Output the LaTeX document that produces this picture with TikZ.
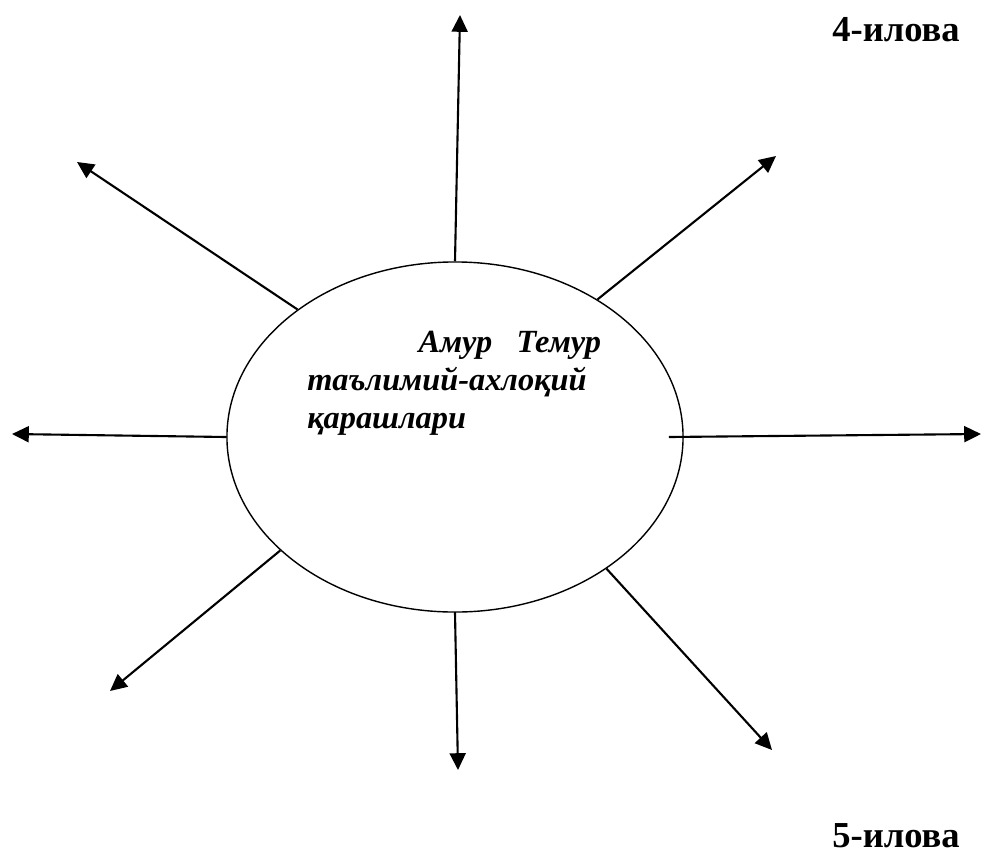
\documentclass[tikz,border=0pt]{standalone}
\usepackage{fontspec}
\setmainfont{Liberation Serif}
\usetikzlibrary{arrows.meta,shapes.geometric}

\begin{document}
\begin{tikzpicture}[
      x=0.025cm, y=-0.025cm,
      >={Triangle[length=0.42cm,width=0.4cm]},
      spoke/.style={->,line width=1.5pt},
      oval/.style={ellipse,draw,line width=1pt,inner sep=0pt,minimum width=11.4cm,minimum height=8.75cm},
      caption/.style={font=\fontsize{26}{26}\selectfont\bfseries},
      title/.style={font=\fontsize{23}{27}\selectfont\bfseries\itshape,align=left,anchor=north west,inner sep=0pt}
    ]
    \useasboundingbox (0,0) rectangle (981,857);

    \node[oval] (ideas) at (455,437) {};
    \node[title] (name) at (307,331) {\hspace*{2.78cm}Амур\hspace{0.75em}Темур\\таълимий-ахлоқий\\қарашлари};

    \node[caption] (fig4) at (896,30) {4-илова};
    \node[caption] (fig5) at (896,836) {5-илова};

    % free ends of the spokes
    \coordinate (tN) at (460,15);
    \coordinate (tS) at (458,770);
    \coordinate (tW) at (12,434);
    \coordinate (tE) at (981,434);
    \coordinate (tNE) at (776,156);
    \coordinate (tNW) at (77,162);
    \coordinate (tSW) at (110,691);
    \coordinate (tSE) at (772,750);

    \foreach \a/\t in {90/tN,270/tS,180/tW,44/tNE,141/tNW,213/tSW,319/tSE}
      \draw[spoke] (ideas.\a) -- (\t);
    \draw[spoke] ([xshift=-0.37cm]ideas.0) -- (tE);
  \end{tikzpicture}
\end{document}
